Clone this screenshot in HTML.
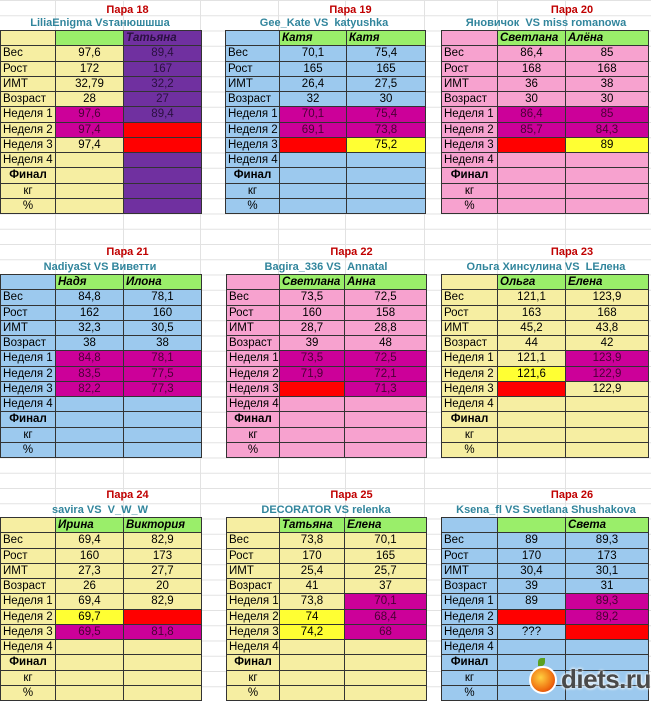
<!DOCTYPE html>
<html><head><meta charset="utf-8"><style>
body{margin:0;width:651px;height:700px;position:relative;overflow:hidden;background:#fff;font-family:"Liberation Sans","DejaVu Sans",sans-serif;}
.bg{position:absolute;left:0;top:0;width:651px;height:700px;
background-image:linear-gradient(#e2e2e2 1px,transparent 1px);
background-size:100% 15.25px;}
.vl{position:absolute;top:0;width:1px;height:700px;background:#e2e2e2}
.t{position:absolute;font-weight:bold;font-size:11px;text-align:center;white-space:nowrap}
.t1{color:#c00000}.t2{color:#31859c}
table{position:absolute;border-collapse:collapse;font-size:11.5px;table-layout:fixed}
td{border:1px solid #333;height:14.25px;padding:0 2px;text-align:center;white-space:nowrap;line-height:14px;overflow:hidden}
td:first-child{text-align:left}
td.c{text-align:center!important;font-weight:bold}
td.k{text-align:center!important}
.Y td{background:#f6eea2}.B td{background:#9cc9ee}.P td{background:#f7a2cf}
tr.h td.n{background:#9aee6a;font-weight:bold;font-style:italic;text-align:left}
td.pu{background:#7030a0!important;color:#2a1040}
td.m{background:#cc0099!important;color:#4a0035}
td.r{background:#ff0000!important}
td.y{background:#ffff33!important}
</style></head><body>
<div class="bg"></div>
<div class="vl" style="left:55px"></div><div class="vl" style="left:123px"></div><div class="vl" style="left:200px"></div>
<div class="vl" style="left:278px"></div><div class="vl" style="left:345px"></div><div class="vl" style="left:424px"></div>
<div class="vl" style="left:497px"></div><div class="vl" style="left:565px"></div>

<!-- Row 1 -->
<div class="t t1" style="left:55px;width:145px;top:4px">Пара 18</div>
<div class="t t2" style="left:0;width:200px;top:17px">LiliaEnigma Vsтанюшшша</div>
<table class="Y" style="left:0;top:30px;width:201px"><colgroup><col style="width:55px"><col style="width:68px"><col style="width:78px"></colgroup>
<tr class="h"><td></td><td class="n"></td><td class="pu" style="font-weight:bold;font-style:italic;text-align:left">Татьяна</td></tr>
<tr><td>Вес</td><td>97,6</td><td class="pu">89,4</td></tr>
<tr><td>Рост</td><td>172</td><td class="pu">167</td></tr>
<tr><td>ИМТ</td><td>32,79</td><td class="pu">32,2</td></tr>
<tr><td>Возраст</td><td>28</td><td class="pu">27</td></tr>
<tr><td>Неделя 1</td><td class="m">97,6</td><td class="pu">89,4</td></tr>
<tr><td>Неделя 2</td><td class="m">97,4</td><td class="r"></td></tr>
<tr><td>Неделя 3</td><td>97,4</td><td class="r"></td></tr>
<tr><td>Неделя 4</td><td></td><td class="pu"></td></tr>
<tr><td class="c">Финал</td><td></td><td class="pu"></td></tr>
<tr><td class="k">кг</td><td></td><td class="pu"></td></tr>
<tr><td class="k">%</td><td></td><td class="pu"></td></tr>
</table>

<div class="t t1" style="left:278px;width:145px;top:4px">Пара 19</div>
<div class="t t2" style="left:224px;width:200px;top:17px">Gee_Kate VS &nbsp;katyushka</div>
<table class="B" style="left:225px;top:30px;width:200px"><colgroup><col style="width:54px"><col style="width:67px"><col style="width:79px"></colgroup>
<tr class="h"><td></td><td class="n">Катя</td><td class="n">Катя</td></tr>
<tr><td>Вес</td><td>70,1</td><td>75,4</td></tr>
<tr><td>Рост</td><td>165</td><td>165</td></tr>
<tr><td>ИМТ</td><td>26,4</td><td>27,5</td></tr>
<tr><td>Возраст</td><td>32</td><td>30</td></tr>
<tr><td>Неделя 1</td><td class="m">70,1</td><td class="m">75,4</td></tr>
<tr><td>Неделя 2</td><td class="m">69,1</td><td class="m">73,8</td></tr>
<tr><td>Неделя 3</td><td class="r"></td><td class="y">75,2</td></tr>
<tr><td>Неделя 4</td><td></td><td></td></tr>
<tr><td class="c">Финал</td><td></td><td></td></tr>
<tr><td class="k">кг</td><td></td><td></td></tr>
<tr><td class="k">%</td><td></td><td></td></tr>
</table>

<div class="t t1" style="left:497px;width:150px;top:4px">Пара 20</div>
<div class="t t2" style="left:441px;width:210px;top:17px">Яновичок &nbsp;VS miss romanowa</div>
<table class="P" style="left:441px;top:30px;width:207px"><colgroup><col style="width:56px"><col style="width:68px"><col style="width:83px"></colgroup>
<tr class="h"><td></td><td class="n">Светлана</td><td class="n">Алёна</td></tr>
<tr><td>Вес</td><td>86,4</td><td>85</td></tr>
<tr><td>Рост</td><td>168</td><td>168</td></tr>
<tr><td>ИМТ</td><td>36</td><td>38</td></tr>
<tr><td>Возраст</td><td>30</td><td>30</td></tr>
<tr><td>Неделя 1</td><td class="m">86,4</td><td class="m">85</td></tr>
<tr><td>Неделя 2</td><td class="m">85,7</td><td class="m">84,3</td></tr>
<tr><td>Неделя 3</td><td class="r"></td><td class="y">89</td></tr>
<tr><td>Неделя 4</td><td></td><td></td></tr>
<tr><td class="c">Финал</td><td></td><td></td></tr>
<tr><td class="k">кг</td><td></td><td></td></tr>
<tr><td class="k">%</td><td></td><td></td></tr>
</table>

<!-- Row 2 -->
<div class="t t1" style="left:55px;width:145px;top:246px">Пара 21</div>
<div class="t t2" style="left:0;width:200px;top:261px">NadiyaSt VS Виветти</div>
<table class="B" style="left:0;top:274px;width:201px"><colgroup><col style="width:55px"><col style="width:68px"><col style="width:78px"></colgroup>
<tr class="h"><td></td><td class="n">Надя</td><td class="n">Илона</td></tr>
<tr><td>Вес</td><td>84,8</td><td>78,1</td></tr>
<tr><td>Рост</td><td>162</td><td>160</td></tr>
<tr><td>ИМТ</td><td>32,3</td><td>30,5</td></tr>
<tr><td>Возраст</td><td>38</td><td>38</td></tr>
<tr><td>Неделя 1</td><td class="m">84,8</td><td class="m">78,1</td></tr>
<tr><td>Неделя 2</td><td class="m">83,5</td><td class="m">77,5</td></tr>
<tr><td>Неделя 3</td><td class="m">82,2</td><td class="m">77,3</td></tr>
<tr><td>Неделя 4</td><td></td><td></td></tr>
<tr><td class="c">Финал</td><td></td><td></td></tr>
<tr><td class="k">кг</td><td></td><td></td></tr>
<tr><td class="k">%</td><td></td><td></td></tr>
</table>

<div class="t t1" style="left:279px;width:145px;top:246px">Пара 22</div>
<div class="t t2" style="left:226px;width:200px;top:261px">Bagira_336 VS &nbsp;Annatal</div>
<table class="P" style="left:226px;top:274px;width:200px"><colgroup><col style="width:53px"><col style="width:65px"><col style="width:82px"></colgroup>
<tr class="h"><td></td><td class="n">Светлана</td><td class="n">Анна</td></tr>
<tr><td>Вес</td><td>73,5</td><td>72,5</td></tr>
<tr><td>Рост</td><td>160</td><td>158</td></tr>
<tr><td>ИМТ</td><td>28,7</td><td>28,8</td></tr>
<tr><td>Возраст</td><td>39</td><td>48</td></tr>
<tr><td>Неделя 1</td><td class="m">73,5</td><td class="m">72,5</td></tr>
<tr><td>Неделя 2</td><td class="m">71,9</td><td class="m">72,1</td></tr>
<tr><td>Неделя 3</td><td class="r"></td><td class="m">71,3</td></tr>
<tr><td>Неделя 4</td><td></td><td></td></tr>
<tr><td class="c">Финал</td><td></td><td></td></tr>
<tr><td class="k">кг</td><td></td><td></td></tr>
<tr><td class="k">%</td><td></td><td></td></tr>
</table>

<div class="t t1" style="left:497px;width:150px;top:246px">Пара 23</div>
<div class="t t2" style="left:441px;width:210px;top:261px">Ольга Хинсулина VS &nbsp;LЕлена</div>
<table class="Y" style="left:441px;top:274px;width:207px"><colgroup><col style="width:56px"><col style="width:68px"><col style="width:83px"></colgroup>
<tr class="h"><td></td><td class="n">Ольга</td><td class="n">Елена</td></tr>
<tr><td>Вес</td><td>121,1</td><td>123,9</td></tr>
<tr><td>Рост</td><td>163</td><td>168</td></tr>
<tr><td>ИМТ</td><td>45,2</td><td>43,8</td></tr>
<tr><td>Возраст</td><td>44</td><td>42</td></tr>
<tr><td>Неделя 1</td><td>121,1</td><td class="m">123,9</td></tr>
<tr><td>Неделя 2</td><td class="y">121,6</td><td class="m">122,9</td></tr>
<tr><td>Неделя 3</td><td class="r"></td><td>122,9</td></tr>
<tr><td>Неделя 4</td><td></td><td></td></tr>
<tr><td class="c">Финал</td><td></td><td></td></tr>
<tr><td class="k">кг</td><td></td><td></td></tr>
<tr><td class="k">%</td><td></td><td></td></tr>
</table>

<!-- Row 3 -->
<div class="t t1" style="left:55px;width:145px;top:489px">Пара 24</div>
<div class="t t2" style="left:0;width:200px;top:504px">savira VS &nbsp;V_W_W</div>
<table class="Y" style="left:0;top:517px;width:201px"><colgroup><col style="width:55px"><col style="width:68px"><col style="width:78px"></colgroup>
<tr class="h"><td></td><td class="n">Ирина</td><td class="n">Виктория</td></tr>
<tr><td>Вес</td><td>69,4</td><td>82,9</td></tr>
<tr><td>Рост</td><td>160</td><td>173</td></tr>
<tr><td>ИМТ</td><td>27,3</td><td>27,7</td></tr>
<tr><td>Возраст</td><td>26</td><td>20</td></tr>
<tr><td>Неделя 1</td><td>69,4</td><td>82,9</td></tr>
<tr><td>Неделя 2</td><td class="y">69,7</td><td class="r"></td></tr>
<tr><td>Неделя 3</td><td class="m">69,5</td><td class="m">81,8</td></tr>
<tr><td>Неделя 4</td><td></td><td></td></tr>
<tr><td class="c">Финал</td><td></td><td></td></tr>
<tr><td class="k">кг</td><td></td><td></td></tr>
<tr><td class="k">%</td><td></td><td></td></tr>
</table>

<div class="t t1" style="left:279px;width:145px;top:489px">Пара 25</div>
<div class="t t2" style="left:226px;width:200px;top:504px">DECORATOR VS relenka</div>
<table class="Y" style="left:226px;top:517px;width:200px"><colgroup><col style="width:53px"><col style="width:65px"><col style="width:82px"></colgroup>
<tr class="h"><td></td><td class="n">Татьяна</td><td class="n">Елена</td></tr>
<tr><td>Вес</td><td>73,8</td><td>70,1</td></tr>
<tr><td>Рост</td><td>170</td><td>165</td></tr>
<tr><td>ИМТ</td><td>25,4</td><td>25,7</td></tr>
<tr><td>Возраст</td><td>41</td><td>37</td></tr>
<tr><td>Неделя 1</td><td>73,8</td><td class="m">70,1</td></tr>
<tr><td>Неделя 2</td><td class="y">74</td><td class="m">68,4</td></tr>
<tr><td>Неделя 3</td><td class="y">74,2</td><td class="m">68</td></tr>
<tr><td>Неделя 4</td><td></td><td></td></tr>
<tr><td class="c">Финал</td><td></td><td></td></tr>
<tr><td class="k">кг</td><td></td><td></td></tr>
<tr><td class="k">%</td><td></td><td></td></tr>
</table>

<div class="t t1" style="left:497px;width:150px;top:489px">Пара 26</div>
<div class="t t2" style="left:441px;width:210px;top:504px">Ksena_fl VS Svetlana Shushakova</div>
<table class="B" style="left:441px;top:517px;width:207px"><colgroup><col style="width:56px"><col style="width:68px"><col style="width:83px"></colgroup>
<tr class="h"><td></td><td class="n"></td><td class="n">Света</td></tr>
<tr><td>Вес</td><td>89</td><td>89,3</td></tr>
<tr><td>Рост</td><td>170</td><td>173</td></tr>
<tr><td>ИМТ</td><td>30,4</td><td>30,1</td></tr>
<tr><td>Возраст</td><td>39</td><td>31</td></tr>
<tr><td>Неделя 1</td><td>89</td><td class="m">89,3</td></tr>
<tr><td>Неделя 2</td><td class="r"></td><td class="m">89,2</td></tr>
<tr><td>Неделя 3</td><td>???</td><td class="r"></td></tr>
<tr><td>Неделя 4</td><td></td><td></td></tr>
<tr><td class="c">Финал</td><td></td><td></td></tr>
<tr><td class="k">кг</td><td></td><td></td></tr>
<tr><td class="k">%</td><td></td><td></td></tr>
</table>

<!-- watermark -->
<div style="position:absolute;left:529px;top:666px;width:24px;height:24px;border-radius:50%;background:radial-gradient(circle at 40% 40%,#ffd040,#f07010 60%,#d02000);border:2px solid #fff"></div>
<div style="position:absolute;left:538px;top:658px;width:7px;height:8px;border-radius:50% 0;background:#5aa020"></div>
<div style="position:absolute;left:561px;top:664px;font-size:26px;font-weight:bold;color:#4a4a4a;text-shadow:0 0 3px #fff,0 0 3px #fff;letter-spacing:-0.5px">diets.ru</div>
</body></html>
